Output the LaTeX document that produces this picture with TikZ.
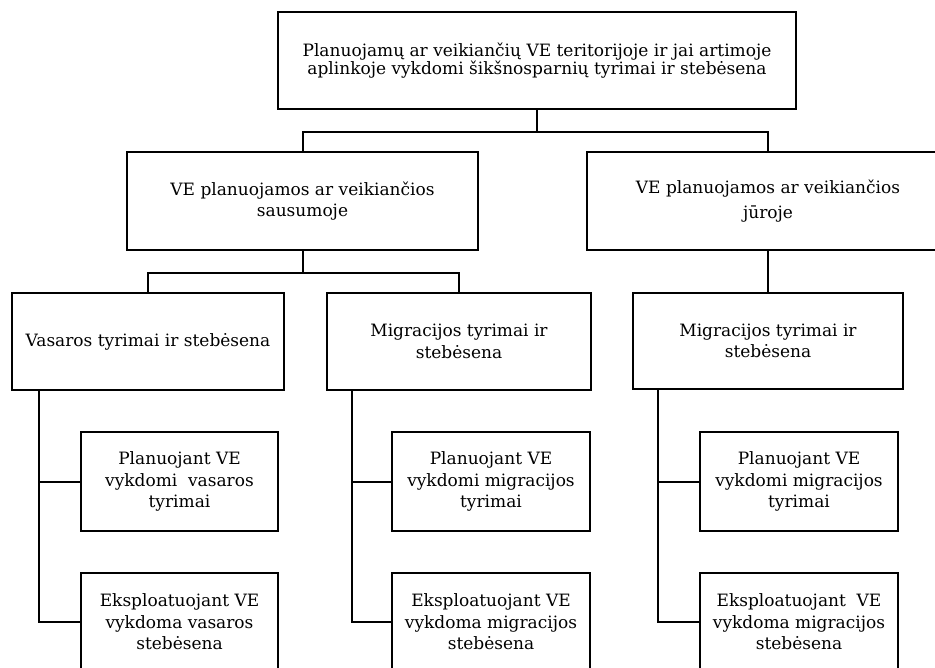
\documentclass[tikz,border=0pt]{standalone}
\usepackage{fontspec}
\setmainfont{DejaVu Serif}
\begin{document}
\begin{tikzpicture}[x=1pt, y=-1pt,
		box/.style={draw, line width=2pt, align=center, inner sep=0pt, font=\fontsize{17}{21.5}\selectfont},
		wire/.style={line width=2pt}]
		\useasboundingbox (0,0) rectangle (935,668);
		\clip (0,0) rectangle (935,668);
		% levels
		\node[box, minimum width=518, minimum height=97, font=\fontsize{17}{18.5}\selectfont] (top) at (537, 60.5) {Planuojamų ar veikiančių VE teritorijoje ir jai artimoje\\aplinkoje vykdomi šikšnosparnių tyrimai ir stebėsena};
		\node[box, minimum width=351, minimum height=98] (land) at (302.5, 201) {VE planuojamos ar veikiančios\\sausumoje};
		\node[box, minimum width=362, minimum height=98, font=\fontsize{17}{25}\selectfont] (sea) at (768, 201) {VE planuojamos ar veikiančios\\jūroje};
		\node[box, minimum width=272, minimum height=97] (summer) at (148, 341.5) {Vasaros tyrimai ir stebėsena};
		\node[box, minimum width=264, minimum height=97] (migland) at (459, 341.5) {Migracijos tyrimai ir\\stebėsena};
		\node[box, minimum width=270, minimum height=96] (migsea) at (768, 341) {Migracijos tyrimai ir\\stebėsena};
		% leaves
		\node[box, minimum width=197, minimum height=99] (plan1) at (179.5, 481.5) {Planuojant VE\\vykdomi\ \ vasaros\\tyrimai};
		\node[box, minimum width=198, minimum height=99] (plan2) at (491, 481.5) {Planuojant VE\\vykdomi migracijos\\tyrimai};
		\node[box, minimum width=198, minimum height=99] (plan3) at (799, 481.5) {Planuojant VE\\vykdomi migracijos\\tyrimai};
		\node[box, minimum width=197, minimum height=99] (expl1) at (179.5, 622) {Eksploatuojant VE\\vykdoma vasaros\\stebėsena};
		\node[box, minimum width=198, minimum height=99] (expl2) at (491, 622) {Eksploatuojant VE\\vykdoma migracijos\\stebėsena};
		\node[box, minimum width=198, minimum height=99] (expl3) at (799, 622) {Eksploatuojant\ \ VE\\vykdoma migracijos\\stebėsena};
		% connectors
		\draw[wire] (top.south) -- ++(0,22) -| (land.north);
		\draw[wire] (top.south) -- ++(0,22) -| (sea.north);
		\draw[wire] (land.south) -- ++(0,22) -| (summer.north);
		\draw[wire] (land.south) -- ++(0,22) -| (migland.north);
		\draw[wire] (sea.south) -- (migsea.north);
		\draw[wire] ([xshift=28]summer.south west) |- (plan1.west);
		\draw[wire] ([xshift=28]summer.south west) |- (expl1.west);
		\draw[wire] ([xshift=26]migland.south west) |- (plan2.west);
		\draw[wire] ([xshift=26]migland.south west) |- (expl2.west);
		\draw[wire] ([xshift=26]migsea.south west) |- (plan3.west);
		\draw[wire] ([xshift=26]migsea.south west) |- (expl3.west);
	\end{tikzpicture}
\end{document}
